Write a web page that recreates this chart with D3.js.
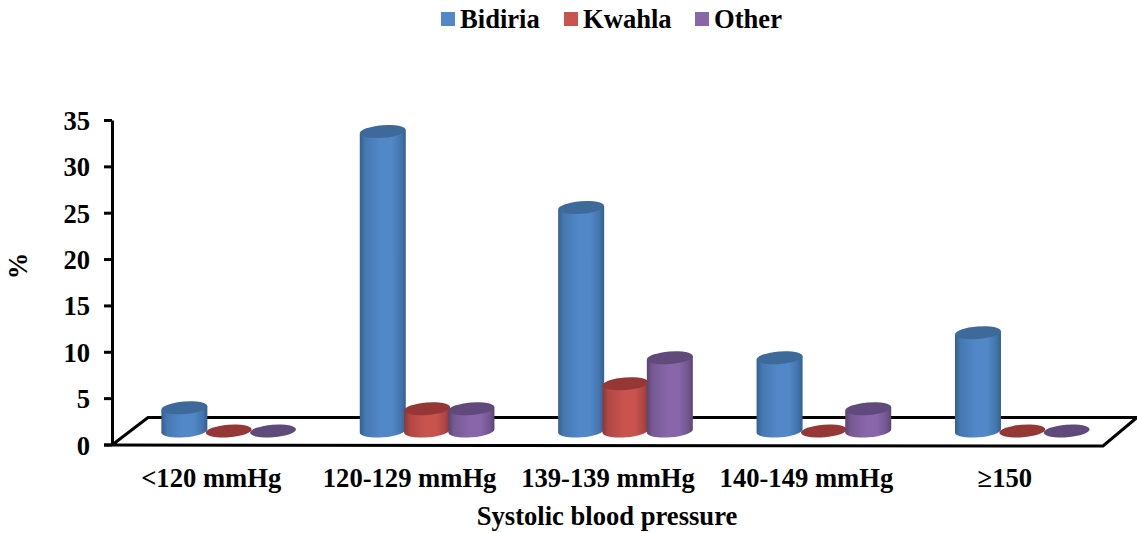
<!DOCTYPE html>
<html><head><meta charset="utf-8">
<script src="https://cdn.jsdelivr.net/npm/d3@7"></script>
<style>html,body{margin:0;background:#fff}svg{display:block}text{font-family:"Liberation Serif",serif;font-weight:700;fill:#000}</style>
</head><body><div id="c"></div>
<script>
const categories = ["<120 mmHg","120-129 mmHg","139-139 mmHg","140-149 mmHg","≥150"];
const seriesNames = ["Bidiria","Kwahla","Other"];
const bidiria = [2.5,32.3,24.1,7.9,10.6];
const kwahla = [0,2.4,5.1,0,0];
const other = [0,2.4,7.9,2.4,0];
const yTicks = [0,5,10,15,20,25,30,35];
const colors = [
 {mid:"#5288c8",edge:"#335f8f",top:"#3d6a9a"},
 {mid:"#c9534f",edge:"#8c3634",top:"#953735"},
 {mid:"#8866a9",edge:"#5a4572",top:"#604a7b"}];
const seriesValues = [bidiria,kwahla,other];

const W=1137,H=533,fs="26.6px";
const svg=d3.select("#c").append("svg").attr("width",W).attr("height",H);
const y=d3.scaleLinear().domain([0,35]).range([444.5,120]);
const x0=d3.scaleBand().domain(categories).range([112,1104]);
const x1=d3.scaleBand().domain(seriesNames).range([0,133]);
const depthX=17.5, depthY=13.5, rx=23, ry=6.3, tilt=1.8, rot=-4.5;

const defs=svg.append("defs");
colors.forEach((c,i)=>{
  const g=defs.append("linearGradient").attr("id","g"+i);
  [[0,c.edge],[.12,d3.interpolateRgb(c.edge,c.mid)(.6)],[.45,c.mid],[.7,c.mid],[.9,d3.interpolateRgb(c.edge,c.mid)(.5)],[1,c.edge]]
    .forEach(s=>g.append("stop").attr("offset",s[0]).attr("stop-color",s[1]));
});

// floor
const floorBackY=417.5, floorFrontY=446;
svg.append("path").attr("fill","#fff").attr("stroke","#000").attr("stroke-width",3).attr("stroke-linejoin","miter")
  .attr("d",d3.line()([[112,floorFrontY-1],[148,floorBackY],[1137,floorBackY],[1103,floorFrontY],[104,floorFrontY-1]]));

// y axis
const axis=svg.append("g").attr("transform","translate(112,0)")
  .call(d3.axisLeft(y).tickValues(yTicks).tickSize(8).tickPadding(14).tickSizeOuter(0));
axis.select(".domain").attr("stroke","#000").attr("stroke-width",3);
axis.selectAll(".tick line").attr("x2",-8).attr("stroke","#000").attr("stroke-width",3);
axis.selectAll("text").attr("y",1).style("font-size",fs).style("font-family",'"Liberation Serif",serif').style("font-weight","700").attr("fill","#000");

// bars
seriesNames.forEach((s,si)=>{
  const col=colors[si];
  categories.forEach((cat,ci)=>{
    const cx=x0(cat)+x0.bandwidth()/2+depthX-66.5+x1(s)+x1.bandwidth()/2;
    const v=seriesValues[si][ci];
    const base=y(0)-depthY, top=y(v)-depthY;
    const l=cx-rx, r=cx+rx;
    if(v>0){
      svg.append("path").attr("fill",`url(#g${si})`)
       .attr("d",`M${l},${top+tilt}L${r},${top-tilt}L${r},${base-tilt}A${rx},${ry} ${rot} 0 1 ${l},${base+tilt}Z`);
    }
    svg.append("ellipse").attr("cx",cx).attr("cy",top).attr("rx",rx).attr("ry",ry)
      .attr("transform",`rotate(${rot} ${cx} ${top})`).attr("fill",col.top);
  });
});

// category labels
svg.selectAll(".cat").data(categories).join("text").attr("class","cat")
  .attr("x",d=>x0(d)+x0.bandwidth()/2).attr("y",487).attr("text-anchor","middle")
  .style("font-size",fs).text(d=>d);
svg.append("text").attr("x",607).attr("y",525).attr("text-anchor","middle").style("font-size",fs).text("Systolic blood pressure");
svg.append("text").attr("transform","translate(27,266) rotate(-90)").attr("text-anchor","middle").style("font-size",fs).text("%");

// legend
const legendX=[441,564,695];
seriesNames.forEach((s,i)=>{
  svg.append("rect").attr("x",legendX[i]).attr("y",12).attr("width",14).attr("height",14).attr("fill",colors[i].mid);
  svg.append("text").attr("x",legendX[i]+19).attr("y",27.5).style("font-size",fs).text(s);
});
</script></body></html>
